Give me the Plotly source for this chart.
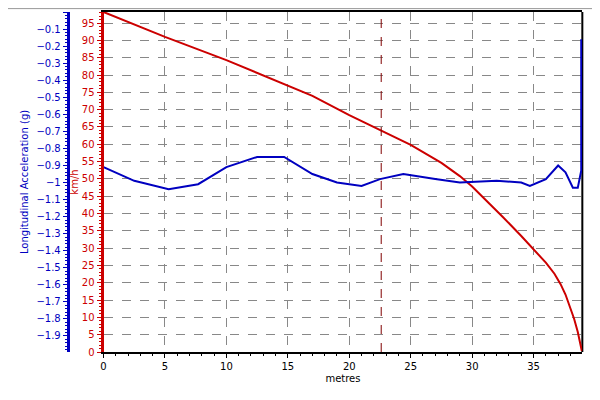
import plotly.graph_objects as go

# distance (metres) vs speed (km/h)
speed_x = [0, 5, 10, 15, 17, 20, 22.5, 25, 27.5, 29, 30, 31, 32.5, 34, 35, 36, 36.7, 37.2, 37.6,
           38.0, 38.3, 38.6, 38.8, 38.93]
speed_kmh = [98.2, 91, 84.3, 77, 74, 68.4, 64.0, 59.8, 54.6, 50.8, 47.8, 44.4, 39.0, 33.5, 29.8,
             25.8, 22.6, 19.6, 16.6, 12.8, 9.6, 5.8, 2.8, 0.3]

# distance (metres) vs longitudinal acceleration (g)
acc_x = [0, 2.5, 5.3, 7.7, 10, 12.5, 14.7, 17, 19, 21, 22.5, 24.4, 27, 29, 32, 34, 34.7, 36, 37,
         37.6, 38.2, 38.6, 38.88, 38.88]
acc_g = [-0.91, -0.99, -1.04, -1.01, -0.91, -0.85, -0.85, -0.95, -1.0, -1.02, -0.98, -0.95, -0.98,
         -1.0, -0.99, -1.0, -1.02, -0.98, -0.9, -0.94, -1.03, -1.03, -0.93, -0.16]

marker_x = 22.6

BLUE = "#0000c0"
RED = "#cc0000"

fig = go.Figure()
fig.add_trace(go.Scatter(x=speed_x, y=speed_kmh, mode="lines", line=dict(color=RED, width=2),
                         yaxis="y"))
fig.add_trace(go.Scatter(x=acc_x, y=acc_g, mode="lines", line=dict(color=BLUE, width=2),
                         yaxis="y2"))
fig.add_vline(x=marker_x, line=dict(color="#800000", width=1, dash="dash"))

# page has an 8px body margin, so positions are shifted up/left by 8px
fig.update_layout(
    width=600, height=400,
    margin=dict(l=0, r=0, t=4, b=56),
    paper_bgcolor="white", plot_bgcolor="white",
    showlegend=False,
    font=dict(family="DejaVu Sans", size=10),
    xaxis=dict(domain=[0.155, 0.957], range=[0, 38.97], dtick=5, showgrid=True,
               gridcolor="#888", griddash="dash", gridwidth=1, zeroline=False,
               showline=True, linecolor="black", linewidth=2, mirror=True,
               ticks="outside", ticklen=4, tickcolor="black",
               minor=dict(dtick=1, ticks="outside", ticklen=2, tickcolor="black"),
               tickfont=dict(color="black"),
               title=dict(text="metres", font=dict(size=10, color="black"), standoff=4)),
    yaxis=dict(range=[0, 98.2], dtick=5, showgrid=True, gridcolor="#888", griddash="dash",
               zeroline=False, showline=True, linecolor=RED, linewidth=3,
               ticks="outside", ticklen=4, tickcolor=RED, tickfont=dict(color=RED),
               minor=dict(dtick=1, ticks="outside", ticklen=2, tickcolor=RED),
               title=dict(text="km/h", font=dict(size=10, color=RED), standoff=2)),
    yaxis2=dict(range=[-1.994, 0], dtick=0.1, overlaying="y", side="left", anchor="free",
                position=0.095, showgrid=False, zeroline=False, showline=True,
                linecolor=BLUE, linewidth=3, ticks="outside", ticklen=4, tickcolor=BLUE,
                tickfont=dict(color=BLUE),
                minor=dict(dtick=0.02, ticks="outside", ticklen=2, tickcolor=BLUE),
                title=dict(text="Longitudinal Acceleration (g)", font=dict(size=10, color=BLUE),
                           standoff=4)),
)
fig.add_shape(type="line", xref="x domain", yref="y domain", x0=1, x1=1, y0=0, y1=1,
              line=dict(color="black", width=2), layer="below")
fig.add_shape(type="rect", xref="paper", yref="paper", x0=-0.012, x1=0.985, y0=-0.16, y1=1.01,
              line=dict(color="#999", width=1))

fig.write_html("out.html")
